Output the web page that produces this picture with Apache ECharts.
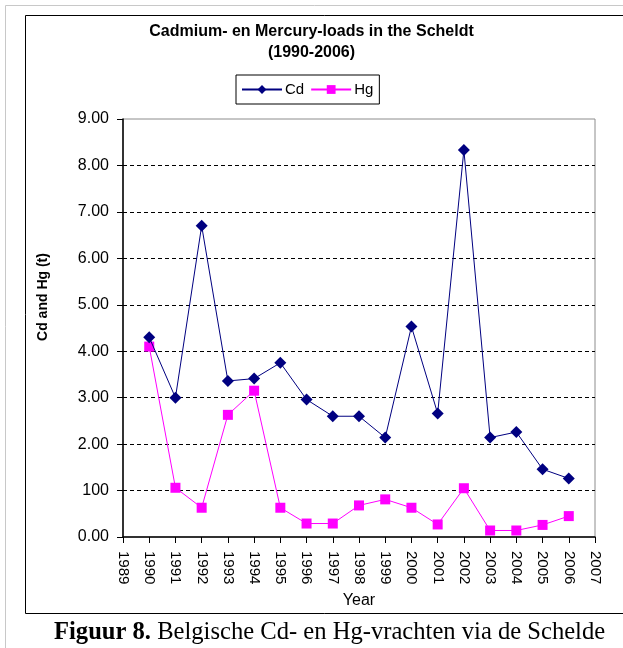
<!DOCTYPE html>
<html>
<head>
<meta charset="utf-8">
<script src="https://cdn.jsdelivr.net/npm/echarts@6/dist/echarts.min.js"></script>
<style>
html,body{margin:0;padding:0;background:#fff;}
#c{width:623px;height:648px;}
</style>
</head>
<body>
<div id="c"></div>
<script>
var years = [1990,1991,1992,1993,1994,1995,1996,1997,1998,1999,2000,2001,2002,2003,2004,2005,2006];
var cd = [4.30,3.00,6.70,3.36,3.41,3.75,2.96,2.60,2.60,2.14,4.53,2.66,8.33,2.14,2.26,1.46,1.26];
var hg = [4.10,1.06,0.63,2.63,3.15,0.63,0.29,0.29,0.68,0.81,0.63,0.27,1.05,0.14,0.14,0.26,0.45];
var yTickLabels = {0:'0.00',1:'100',2:'2.00',3:'3.00',4:'4.00',5:'5.00',6:'6.00',7:'7.00',8:'8.00',9:'9.00'};

function pairs(vals){ return years.map(function(y,i){ return [y, vals[i]]; }); }

var chart = echarts.init(document.getElementById('c'));
var font = 'Liberation Sans, Arial, sans-serif';
chart.setOption({
  animation: false,
  backgroundColor: '#fff',
  title: {
    text: 'Cadmium- en Mercury-loads in the Scheldt\n(1990-2006)',
    left: 'center', top: 16,
    textStyle: {fontFamily: font, fontSize: 16, fontWeight: 'bold', color: '#000', lineHeight: 21}
  },
  legend: {
    left: 236, top: 75,
    padding: [7, 6, 7, 5],
    borderColor: '#000', borderWidth: 1,
    itemWidth: 40, itemHeight: 11, itemGap: 6,
    textStyle: {fontFamily: font, fontSize: 15, color: '#000', padding: [0,0,0,-2]},
    data: ['Cd', 'Hg']
  },
  grid: {
    left: 123, right: 28, top: 119, bottom: 111,
    show: true, borderColor: '#8c8c8c', borderWidth: 1, backgroundColor: '#fff'
  },
  xAxis: {
    type: 'value', min: 1989, max: 2007, interval: 1,
    name: 'Year', nameLocation: 'middle', nameGap: 51,
    nameTextStyle: {fontFamily: font, fontSize: 16, color: '#000'},
    axisLine: {show: true, onZero: false, lineStyle: {color: '#000', width: 1.5}},
    axisTick: {show: true, inside: false, length: 6, lineStyle: {color: '#000'}},
    axisLabel: {rotate: -90, fontFamily: font, fontSize: 15, color: '#000', margin: 14,
      formatter: function(v){ return String(v); }},
    splitLine: {show: false}
  },
  yAxis: {
    type: 'value', min: 0, max: 9, interval: 1,
    axisLine: {show: true, lineStyle: {color: '#000', width: 1.5}},
    axisTick: {show: true, inside: false, length: 6, lineStyle: {color: '#000'}},
    axisLabel: {fontFamily: font, fontSize: 16, color: '#000', margin: 14,
      formatter: function(v){ return yTickLabels[v]; }},
    splitLine: {show: true, showMinLine: false, showMaxLine: false,
      lineStyle: {color: '#000', type: [4, 3], width: 1}}
  },
  series: [
    {
      name: 'Cd', type: 'line', data: pairs(cd),
      symbol: 'diamond', symbolSize: 12,
      lineStyle: {color: '#000080', width: 1},
      itemStyle: {color: '#000080'},
      z: 3
    },
    {
      name: 'Hg', type: 'line', data: pairs(hg),
      symbol: 'rect', symbolSize: 10,
      lineStyle: {color: '#ff00ff', width: 1},
      itemStyle: {color: '#ff00ff'},
      z: 2
    }
  ],
  graphic: [
    {type: 'line', shape: {x1: 5.5, y1: 5.5, x2: 623, y2: 5.5}, style: {stroke: '#c8c8c8', lineWidth: 1}, silent: true},
    {type: 'line', shape: {x1: 5.5, y1: 5.5, x2: 5.5, y2: 648}, style: {stroke: '#c8c8c8', lineWidth: 1}, silent: true},
    {type: 'line', shape: {x1: 25.5, y1: 15.5, x2: 623, y2: 15.5}, style: {stroke: '#000', lineWidth: 1}, silent: true},
    {type: 'line', shape: {x1: 25.5, y1: 15.5, x2: 25.5, y2: 613.5}, style: {stroke: '#000', lineWidth: 1}, silent: true},
    {type: 'line', shape: {x1: 25.5, y1: 613.5, x2: 623, y2: 613.5}, style: {stroke: '#000', lineWidth: 1}, silent: true},
    {
      type: 'text', x: 43, y: 297, rotation: Math.PI / 2, silent: true,
      style: {
        text: 'Cd and Hg (t)', align: 'center', verticalAlign: 'middle',
        font: 'bold 14px "Liberation Sans", Arial, sans-serif', fill: '#000'
      }
    },
    {
      type: 'text', x: 54, y: 633, silent: true,
      style: {
        text: '{b|Figuur 8.} Belgische Cd- en Hg-vrachten via de Schelde',
        verticalAlign: 'middle',
        font: '24.6px "Liberation Serif", "Times New Roman", serif',
        fill: '#000',
        rich: {b: {fontWeight: 'bold', fontSize: 24.6, fontFamily: 'Liberation Serif'}}
      }
    }
  ]
});
</script>
</body>
</html>
